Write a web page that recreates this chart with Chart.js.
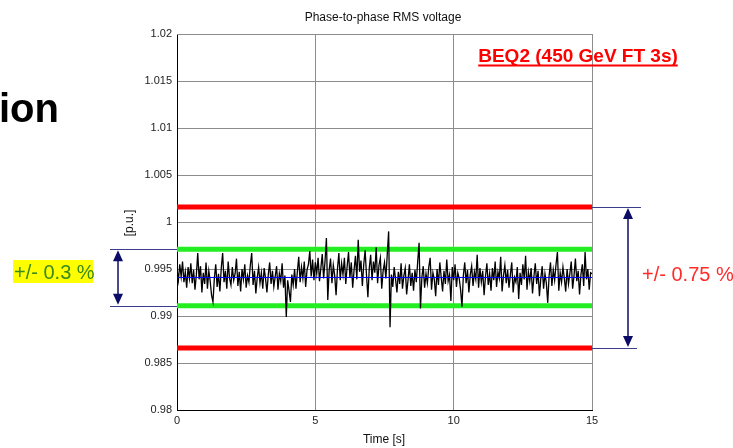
<!DOCTYPE html>
<html>
<head>
<meta charset="utf-8">
<script src="https://cdn.jsdelivr.net/npm/chart.js@4.4.1/dist/chart.umd.min.js"></script>
<style>
  html, body { margin: 0; padding: 0; background: #fff; }
  canvas { display: block; }
</style>
</head>
<body>
<canvas id="voltageChart" width="733" height="448"></canvas>
<script>
// axis ticks
const xTicks = [0, 5, 10, 15];
const yTicks = [0.98, 0.985, 0.99, 0.995, 1, 1.005, 1.01, 1.015, 1.02];
const yTickLabels = ['0.98', '0.985', '0.99', '0.995', '1', '1.005', '1.01', '1.015', '1.02'];

// limit bands and mean level [p.u.]
const redLimits = [1.0016, 0.9866];
const greenLimits = [0.9971, 0.9911];
const meanLevel = 0.9941;

// measured RMS voltage, one sample every 0.05 s from 0 to 15 s
const sampleStep = 0.05;
const voltage = [
    0.9950, 0.9938, 0.9955, 0.9942, 0.9958, 0.9936, 0.9947, 0.9930, 0.9952, 0.9940,
    0.9956, 0.9935, 0.9949, 0.9928, 0.9944, 0.9967, 0.9939, 0.9953, 0.9925, 0.9946,
    0.9934, 0.9957, 0.9929, 0.9948, 0.9937, 0.9922, 0.9915, 0.9940, 0.9955, 0.9931,
    0.9945, 0.9926, 0.9951, 0.9967, 0.9936, 0.9948, 0.9929, 0.9958, 0.9940, 0.9933,
    0.9952, 0.9938, 0.9945, 0.9961, 0.9932, 0.9947, 0.9926, 0.9950, 0.9939, 0.9955,
    0.9930, 0.9943, 0.9936, 0.9954, 0.9967, 0.9933, 0.9948, 0.9924, 0.9941, 0.9952,
    0.9935, 0.9946, 0.9929, 0.9951, 0.9940, 0.9925, 0.9944, 0.9957, 0.9934, 0.9948,
    0.9931, 0.9942, 0.9953, 0.9928, 0.9945, 0.9937, 0.9956, 0.9930, 0.9943, 0.9899,
    0.9938, 0.9927, 0.9915, 0.9944, 0.9933, 0.9950, 0.9929, 0.9947, 0.9963, 0.9936,
    0.9952, 0.9940, 0.9958, 0.9931, 0.9949, 0.9955, 0.9969, 0.9942, 0.9960, 0.9938,
    0.9957, 0.9945, 0.9962, 0.9937, 0.9951, 0.9966, 0.9940, 0.9958, 0.9983, 0.9917,
    0.9949, 0.9961, 0.9935, 0.9954, 0.9943, 0.9922, 0.9950, 0.9967, 0.9938, 0.9956,
    0.9944, 0.9962, 0.9934, 0.9953, 0.9968, 0.9941, 0.9957, 0.9930, 0.9949, 0.9964,
    0.9939, 0.9981, 0.9947, 0.9959, 0.9932, 0.9955, 0.9970, 0.9943, 0.9920, 0.9951,
    0.9965, 0.9938, 0.9958, 0.9946, 0.9973, 0.9935, 0.9954, 0.9962, 0.9929, 0.9948,
    0.9957, 0.9940, 0.9966, 0.9990, 0.9888, 0.9944, 0.9931, 0.9952, 0.9939, 0.9925,
    0.9947, 0.9934, 0.9956, 0.9929, 0.9943, 0.9951, 0.9923, 0.9938, 0.9955, 0.9932,
    0.9946, 0.9927, 0.9949, 0.9936, 0.9958, 0.9978, 0.9908, 0.9941, 0.9953, 0.9930,
    0.9945, 0.9935, 0.9952, 0.9962, 0.9928, 0.9946, 0.9939, 0.9921, 0.9950, 0.9933,
    0.9957, 0.9941, 0.9926, 0.9948, 0.9934, 0.9960, 0.9937, 0.9944, 0.9916, 0.9952,
    0.9938, 0.9955, 0.9931, 0.9946, 0.9940, 0.9928, 0.9910, 0.9943, 0.9957, 0.9935,
    0.9949, 0.9925, 0.9944, 0.9953, 0.9932, 0.9947, 0.9939, 0.9965, 0.9930, 0.9951,
    0.9936, 0.9948, 0.9922, 0.9942, 0.9956, 0.9933, 0.9945, 0.9927, 0.9951, 0.9938,
    0.9958, 0.9931, 0.9947, 0.9940, 0.9963, 0.9926, 0.9943, 0.9954, 0.9935, 0.9949,
    0.9930, 0.9944, 0.9957, 0.9925, 0.9941, 0.9936, 0.9952, 0.9918, 0.9946, 0.9933,
    0.9955, 0.9939, 0.9964, 0.9928, 0.9947, 0.9937, 0.9951, 0.9924, 0.9942, 0.9956,
    0.9934, 0.9948, 0.9921, 0.9940, 0.9953, 0.9929, 0.9945, 0.9935, 0.9914, 0.9943,
    0.9957, 0.9932, 0.9949, 0.9938, 0.9955, 0.9968, 0.9927, 0.9946, 0.9936, 0.9952,
    0.9940, 0.9926, 0.9950, 0.9934, 0.9945, 0.9958, 0.9929, 0.9943, 0.9961, 0.9937,
    0.9948, 0.9923, 0.9944, 0.9955, 0.9932, 0.9968, 0.9939, 0.9950, 0.9928, 0.9946,
    0.9945
];

const FONT = '"Liberation Sans", Arial, sans-serif';
const tStart = xTicks[0];
const tEnd = xTicks[xTicks.length - 1];

function flatLine(level) {
    return [{ x: tStart, y: level }, { x: tEnd, y: level }];
}

function drawArrow(ctx, x, yTop, yBottom) {
    ctx.beginPath();
    ctx.moveTo(x, yTop + 8);
    ctx.lineTo(x, yBottom - 8);
    ctx.stroke();
    ctx.beginPath();
    ctx.moveTo(x, yTop);
    ctx.lineTo(x - 5, yTop + 11);
    ctx.lineTo(x + 5, yTop + 11);
    ctx.closePath();
    ctx.fill();
    ctx.beginPath();
    ctx.moveTo(x, yBottom);
    ctx.lineTo(x - 5, yBottom - 11);
    ctx.lineTo(x + 5, yBottom - 11);
    ctx.closePath();
    ctx.fill();
}

const slideAnnotations = {
    id: 'slideAnnotations',
    beforeDraw(chart) {
        const ctx = chart.ctx;
        ctx.save();
        ctx.fillStyle = '#fff';
        ctx.fillRect(0, 0, chart.width, chart.height);
        ctx.restore();
    },
    afterDraw(chart) {
        const ctx = chart.ctx;
        const area = chart.chartArea;
        const y = chart.scales.y;
        ctx.save();

        // top and right frame
        ctx.strokeStyle = '#8c8c8c';
        ctx.lineWidth = 1;
        ctx.beginPath();
        ctx.moveTo(area.left, area.top + 0.5);
        ctx.lineTo(area.right + 0.5, area.top + 0.5);
        ctx.lineTo(area.right + 0.5, area.bottom);
        ctx.stroke();

        // title and axis labels
        ctx.fillStyle = '#111';
        ctx.font = '12px ' + FONT;
        ctx.textAlign = 'center';
        ctx.textBaseline = 'middle';
        ctx.fillText('Phase-to-phase RMS voltage', 383, 18);
        ctx.fillText('Time [s]', 384, 440);
        ctx.save();
        ctx.translate(130, 223);
        ctx.rotate(-Math.PI / 2);
        ctx.fillText('[p.u.]', 0, 0);
        ctx.restore();

        // leftover slide heading
        ctx.textAlign = 'left';
        ctx.textBaseline = 'alphabetic';
        ctx.fillStyle = '#000';
        ctx.font = 'bold 40px ' + FONT;
        ctx.fillText('ion', -1, 122);

        // test label
        ctx.fillStyle = '#ff0000';
        ctx.font = 'bold 19px ' + FONT;
        ctx.textAlign = 'center';
        const label = 'BEQ2 (450 GeV FT 3s)';
        ctx.fillText(label, 578, 62);
        const w = ctx.measureText(label).width;
        ctx.fillRect(578 - w / 2, 64.5, w, 2);

        // band markers
        const gTop = y.getPixelForValue(greenLimits[0]);
        const gBot = y.getPixelForValue(greenLimits[1]);
        const rTop = y.getPixelForValue(redLimits[0]);
        const rBot = y.getPixelForValue(redLimits[1]);

        ctx.strokeStyle = '#3c3c8c';
        ctx.lineWidth = 1;
        ctx.beginPath();
        ctx.moveTo(110, Math.round(gTop) + 0.5);
        ctx.lineTo(area.left, Math.round(gTop) + 0.5);
        ctx.moveTo(110, Math.round(gBot) + 0.5);
        ctx.lineTo(area.left, Math.round(gBot) + 0.5);
        ctx.moveTo(area.right, Math.round(rTop) + 0.5);
        ctx.lineTo(641, Math.round(rTop) + 0.5);
        ctx.moveTo(area.right, Math.round(rBot) + 0.5);
        ctx.lineTo(637, Math.round(rBot) + 0.5);
        ctx.stroke();

        ctx.strokeStyle = '#0c0c66';
        ctx.fillStyle = '#0c0c66';
        ctx.lineWidth = 1.5;
        drawArrow(ctx, 118, gTop + 1, gBot - 1);
        drawArrow(ctx, 628, rTop + 1, rBot - 1);

        // band texts
        ctx.fillStyle = '#ffff00';
        ctx.fillRect(13, 260, 80, 23);
        ctx.font = '20px ' + FONT;
        ctx.textAlign = 'left';
        ctx.fillStyle = '#3a8a1a';
        ctx.fillText('+/- 0.3 %', 14, 279);
        ctx.fillStyle = '#ff2a2a';
        ctx.fillText('+/- 0.75 %', 642, 281);

        ctx.restore();
    }
};

new Chart(document.getElementById('voltageChart').getContext('2d'), {
    type: 'line',
    data: {
        datasets: [
            {
                label: 'Mean',
                data: flatLine(meanLevel),
                borderColor: '#0000ff',
                borderWidth: 1
            },
            {
                label: 'RMS voltage',
                data: voltage.map((v, i) => ({ x: i * sampleStep, y: v })),
                borderColor: '#000',
                borderWidth: 1.3
            },
            {
                label: '+/- 0.3 %',
                data: flatLine(greenLimits[0]),
                borderColor: '#22ee22',
                borderWidth: 5
            },
            {
                label: '+/- 0.3 % low',
                data: flatLine(greenLimits[1]),
                borderColor: '#22ee22',
                borderWidth: 5
            },
            {
                label: '+/- 0.75 %',
                data: flatLine(redLimits[0]),
                borderColor: '#ff0000',
                borderWidth: 5
            },
            {
                label: '+/- 0.75 % low',
                data: flatLine(redLimits[1]),
                borderColor: '#ff0000',
                borderWidth: 5
            }
        ]
    },
    options: {
        responsive: false,
        animation: false,
        events: [],
        elements: {
            point: { radius: 0 },
            line: { tension: 0, borderCapStyle: 'butt' }
        },
        layout: {
            padding: { top: 34, right: 141, left: 0, bottom: 0 }
        },
        plugins: {
            legend: { display: false },
            tooltip: { enabled: false }
        },
        scales: {
            x: {
                type: 'linear',
                min: tStart,
                max: tEnd,
                afterBuildTicks: scale => {
                    scale.ticks = xTicks.map(v => ({ value: v }));
                },
                afterFit: scale => {
                    scale.height = 38;
                },
                ticks: {
                    color: '#222',
                    font: { family: FONT, size: 11 },
                    padding: 4,
                    maxRotation: 0
                },
                grid: {
                    color: '#8c8c8c',
                    drawTicks: false
                },
                border: { color: '#000', width: 1 }
            },
            y: {
                type: 'linear',
                min: yTicks[0],
                max: yTicks[yTicks.length - 1],
                afterBuildTicks: scale => {
                    scale.ticks = yTicks.map(v => ({ value: v }));
                },
                afterFit: scale => {
                    scale.width = 177;
                },
                ticks: {
                    color: '#222',
                    font: { family: FONT, size: 11 },
                    padding: 5,
                    callback: function(value) {
                        const i = yTicks.findIndex(t => Math.abs(t - value) < 1e-9);
                        return i >= 0 ? yTickLabels[i] : '';
                    }
                },
                grid: {
                    color: '#8c8c8c',
                    drawTicks: false
                },
                border: { color: '#000', width: 1 }
            }
        }
    },
    plugins: [slideAnnotations]
});
</script>
</body>
</html>
